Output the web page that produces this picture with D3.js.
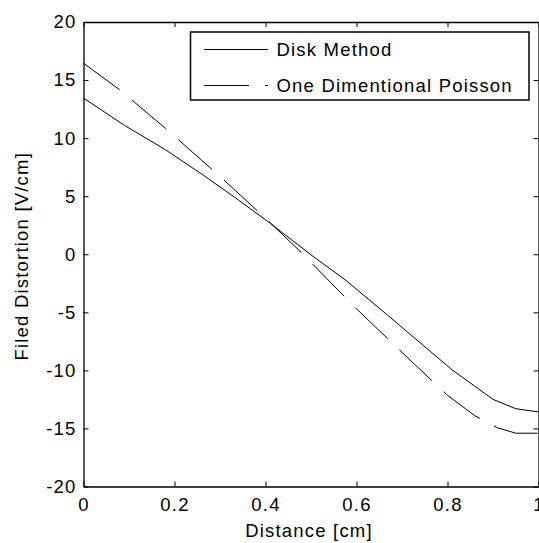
<!DOCTYPE html>
<html>
<head>
<meta charset="utf-8">
<script src="https://cdn.jsdelivr.net/npm/d3@7"></script>
<style>
  body { margin: 0; background: #fff; }
  text { font-family: "Liberation Sans", Arial, sans-serif; font-size: 18.5px; letter-spacing: 1.2px; fill: #000; }
</style>
</head>
<body>
<div id="chart"></div>
<script>
// values
var diskX = [0, 0.09, 0.18, 0.26, 0.33, 0.41, 0.5, 0.575, 0.67, 0.81, 0.9, 0.95, 1.0];
var diskY = [13.45, 11.1, 9.0, 6.9, 4.97, 2.68, -0.05, -2.2, -5.3, -9.95, -12.5, -13.3, -13.58];

var poissonX = [0, 0.08, 0.18, 0.3, 0.4, 0.48, 0.6, 0.7, 0.8, 0.86, 0.91, 0.95, 1.0];
var poissonY = [16.45, 14.15, 10.85, 6.7, 3.1, 0.1, -4.7, -8.45, -12.15, -13.9, -14.95, -15.41, -15.41];

var xTicks = [0, 0.2, 0.4, 0.6, 0.8, 1];
var yTicks = [-20, -15, -10, -5, 0, 5, 10, 15, 20];
var seriesNames = ["Disk Method", "One Dimentional Poisson"];

// #####################################################
// Layout
//
var W = 539, H = 543;
var margin = {top: 22, right: 0.5, bottom: 56.5, left: 83.5};
var width = W - margin.left - margin.right,
    height = H - margin.top - margin.bottom;

var svg = d3.select("#chart").append("svg")
    .attr("width", W)
    .attr("height", H)
  .append("g")
    .attr("transform", "translate(" + margin.left + "," + margin.top + ")");

var x = d3.scaleLinear().domain([0, 1]).range([0, width]);
var y = d3.scaleLinear().domain([-20, 20]).range([height, 0]);

// plain hyphen for negatives, like the original figure
var plain = function(d) { return String(d); };

// #####################################################
// Axes (ticks point inward on all four sides)
//
function styleAxis(g) {
  g.select(".domain").attr("stroke", "#000").attr("stroke-width", 1.3);
  g.selectAll(".tick line").attr("stroke", "#000");
  g.selectAll(".tick text").attr("font-size", null).attr("font-family", null);
}

svg.append("g")
    .attr("transform", "translate(0," + height + ")")
    .call(d3.axisBottom(x).tickValues(xTicks).tickSize(-5).tickSizeOuter(0).tickPadding(11)
      .tickFormat(plain))
    .call(styleAxis);

svg.append("g")
    .call(d3.axisTop(x).tickValues(xTicks).tickSize(-5).tickSizeOuter(0).tickFormat(""))
    .call(styleAxis);

svg.append("g")
    .call(d3.axisLeft(y).tickValues(yTicks).tickSize(-5).tickSizeOuter(0).tickPadding(7)
      .tickFormat(plain))
    .call(styleAxis);

svg.append("g")
    .attr("transform", "translate(" + width + ",0)")
    .call(d3.axisRight(y).tickValues(yTicks).tickSize(-5).tickSizeOuter(0).tickFormat(""))
    .call(styleAxis);

// axis titles
svg.append("text")
    .attr("x", width / 2 - 2)
    .attr("y", height + 50)
    .style("text-anchor", "middle")
    .text("Distance [cm]");

svg.append("text")
    .attr("transform", "rotate(-90)")
    .attr("x", -(height / 2) - 2)
    .attr("y", -margin.left + 28)
    .style("text-anchor", "middle")
    .text("Filed Distortion [V/cm]");

// #####################################################
// Lines
//
var line = d3.line()
    .x(function(d) { return x(d[0]); })
    .y(function(d) { return y(d[1]); });

var disk = diskX.map(function(v, i) { return [v, diskY[i]]; });
var poisson = poissonX.map(function(v, i) { return [v, poissonY[i]]; });

svg.append("path")
    .datum(disk)
    .attr("d", line)
    .attr("fill", "none")
    .attr("stroke", "#000")
    .attr("stroke-width", 1);

svg.append("path")
    .datum(poisson)
    .attr("d", line)
    .attr("fill", "none")
    .attr("stroke", "#000")
    .attr("stroke-width", 1)
    .attr("stroke-dasharray", "45,16");

// #####################################################
// Legend
//
var lg = svg.append("g")
    .attr("transform", "translate(" + (190.5 - margin.left) + "," + (32 - margin.top) + ")");

lg.append("rect")
    .attr("x", 0)
    .attr("y", 0)
    .attr("width", 338.5)
    .attr("height", 68)
    .attr("fill", "#fff")
    .attr("stroke", "#000")
    .attr("stroke-width", 1.5);

var dashes = [null, "45,16"];
var rowY = [17, 53];
seriesNames.forEach(function(name, i) {
  lg.append("line")
      .attr("x1", 13.5).attr("x2", 77.5)
      .attr("y1", rowY[i] + 0.5).attr("y2", rowY[i] + 0.5)
      .attr("stroke", "#000")
      .attr("stroke-width", 1)
      .attr("stroke-dasharray", dashes[i]);
  lg.append("text")
      .attr("x", 86)
      .attr("y", rowY[i] + 7)
      .text(name);
});
</script>
</body>
</html>
